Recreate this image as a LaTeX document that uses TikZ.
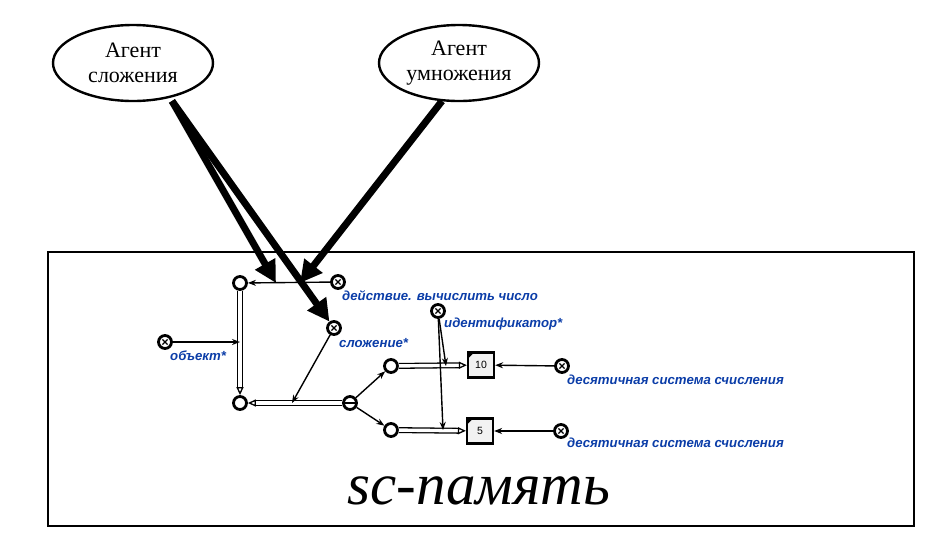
\documentclass[tikz,border=0pt]{standalone}
\usepackage{fontspec}
\setmainfont{Liberation Serif}
\newfontfamily\lblfont{Liberation Sans}
\usetikzlibrary{arrows.meta,shapes.geometric}
\definecolor{lblblue}{HTML}{0B3DA8}
\definecolor{boxfill}{HTML}{F2F2F2}
\tikzset{
  agent/.style={ellipse,draw,line width=2.4pt,minimum width=160pt,minimum height=76pt,inner sep=0pt,align=center,font=\fontsize{22}{25}\selectfont},
  bigarrow/.style={line width=7pt,-{Triangle[length=22pt,width=22pt]}},
  vnode/.style={circle,draw,line width=2.8pt,minimum size=13pt,inner sep=0pt},
  xnode/.style={circle,draw,line width=2.8pt,minimum size=13pt,inner sep=0pt},
  thinarr/.style={line width=1.4pt,-{Stealth[length=8pt,width=6pt]}},
  dblarr/.style={line width=1.3pt,double distance=3.4pt,-{Triangle[length=8pt,width=7pt,open,fill=white]}},
  lbl/.style={font=\lblfont\bfseries\itshape\fontsize{13.2}{15}\selectfont,text=lblblue,anchor=west,inner sep=0pt},
  valbox/.style={draw,line width=2.2pt,fill=boxfill,minimum width=26pt,minimum height=25pt,inner sep=0pt,font=\lblfont\fontsize{10.5}{12}\selectfont},
}
\newcommand{\crossin}[1]{%
  \draw[line width=1.3pt] ([shift={(-2.6pt,-2.6pt)}]#1.center) -- ([shift={(2.6pt,2.6pt)}]#1.center);
  \draw[line width=1.3pt] ([shift={(-2.6pt,2.6pt)}]#1.center) -- ([shift={(2.6pt,-2.6pt)}]#1.center);}
\newcommand{\corner}[1]{%
  \fill ([shift={(1.1pt,-1.1pt)}]#1.north west) -- ++(6pt,0) -- ++(-6pt,-6pt) -- cycle;}
\begin{document}
\begin{tikzpicture}[x=1pt,y=-1pt]
\useasboundingbox (0,0) rectangle (925,558);
% memory frame
\draw[line width=2.4pt] (48,252) rectangle (914,526);
\node[font=\fontsize{59}{64}\selectfont\itshape] (mem) at (479,491) {sc-память};
% agents
\node[agent] (ag1) at (133,63) {Агент\\сложения};
\node[agent] (ag2) at (459,63) {Агент\\умножения};
% nodes
\node[vnode] (A) at (240,283) {};
\node[vnode] (B) at (240,403) {};
\node[vnode] (C) at (350,403) {};
\draw[line width=1.8pt] (C.west) -- (C.east);
\node[vnode] (D) at (391,366) {};
\node[vnode] (E) at (391,430) {};
\node[xnode] (act) at (338,282) {}; \crossin{act}
\node[xnode] (sum) at (334,328) {}; \crossin{sum}
\node[xnode] (obj) at (165,342) {}; \crossin{obj}
\node[xnode] (idf) at (438,311) {}; \crossin{idf}
\node[xnode] (dec1) at (562,366) {}; \crossin{dec1}
\node[xnode] (dec2) at (561,431) {}; \crossin{dec2}
\node[valbox] (b10) at (481,365) {10}; \corner{b10}
\node[valbox] (b5) at (480,431) {5}; \corner{b5}
% labels
\node[lbl] (lact) at (342,296) {действие. вычислить число};
\node[lbl] (lsum) at (339,343) {сложение*};
\node[lbl] (lobj) at (170,356) {объект*};
\node[lbl] (lidf) at (444,324) {идентификатор*};
\node[lbl] (ldec1) at (567,380) {десятичная система счисления};
\node[lbl] (ldec2) at (567,443) {десятичная система счисления};
% double arcs
\draw[dblarr] (A) -- (B);
\draw[dblarr] (C) -- (B);
\draw[dblarr] (D) -- (b10);
\draw[dblarr] (E) -- (b5);
% helper coordinates on arcs
\coordinate (pAB) at (240,342);
\coordinate (pBC) at (292,403);
\coordinate (pD) at (446,366);
\coordinate (pE) at (443,430);
\coordinate (pAct) at (276,283);
\coordinate (pAct2) at (300,283);
% thin arcs
\draw[thinarr] (act) -- (A);
\draw[thinarr] (obj) -- (pAB);
\draw[thinarr] (sum) -- (pBC);
\draw[thinarr] (C) -- (D);
\draw[thinarr] (C) -- (E);
\draw[thinarr] (idf) -- (pD);
\draw[thinarr] (idf) -- (pE);
\draw[thinarr] (dec1) -- (b10);
\draw[thinarr] (dec2) -- (b5);
% agent arrows
\coordinate (s1) at (172,101);
\coordinate (s2) at (442,101);
\draw[bigarrow] (s1) -- (pAct);
\draw[bigarrow] (s1) -- (sum);
\draw[bigarrow] (s2) -- (pAct2);
\end{tikzpicture}
\end{document}
